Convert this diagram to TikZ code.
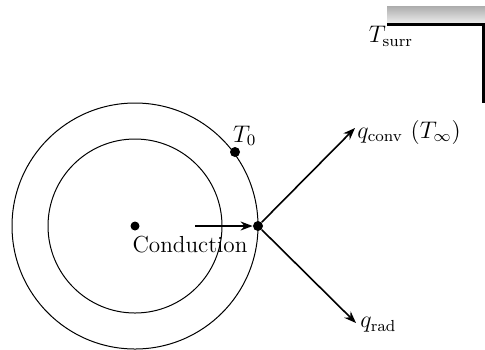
\documentclass[tikz,border=0pt]{standalone}
\usetikzlibrary{positioning,arrows.meta}
\tikzset{
  dot/.style={circle,fill,inner sep=0pt,minimum size=5pt},
  flux/.style={-{Stealth[length=6pt,width=4.5pt]},line width=0.8pt},
  lbl/.style={inner sep=1pt,font=\fontsize{11.6}{14}\selectfont}
}
\begin{document}
\begin{tikzpicture}[x=0.5pt,y=-0.5pt]
\useasboundingbox (0,0) rectangle (485,349);
% cylinder
\draw[line width=0.5pt] (135,226) circle[radius=123];
\draw[line width=0.5pt] (135,226) circle[radius=87];
\node[dot,minimum size=4.5pt] (c) at (135,226) {};
\node[dot] (t0) at (235,152) {};
\node[lbl,above right=0pt and -4pt of t0] (t0lbl) {$T_0$};
\node[dot] (j) at (258,226) {};
% conduction
\coordinate (cs) at (195,226);
\draw[flux] (cs) -- (j);
\node[lbl] (cond) at (190,245) {Conduction};
% convection and radiation
\coordinate (conv) at (355,128);
\coordinate (rad) at (356,323);
\draw[flux] (j) -- (conv);
\draw[flux] (j) -- (rad);
\node[lbl,right=0pt of conv,yshift=-2pt] (qconv) {$q_{\mathrm{conv}}$ $(T_\infty)$};
\node[lbl,right=1pt of rad,yshift=-1pt] (qrad) {$q_{\mathrm{rad}}$};
% surroundings
\shade[top color=gray!65,bottom color=gray!15] (387,6) rectangle (485,23);
\draw[line width=1.5pt] (387,24.5) -- (483.5,24.5) -- (483.5,103);
\node[lbl] (tsurr) at (391,36) {$T_{\mathrm{surr}}$};
\end{tikzpicture}
\end{document}
